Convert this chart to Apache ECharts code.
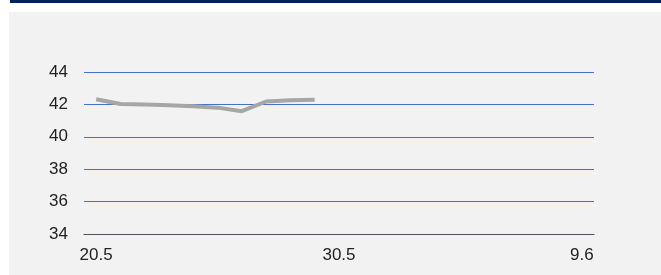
<!DOCTYPE html>
<html><head><meta charset="utf-8">
<script src="https://cdn.jsdelivr.net/npm/echarts@6/dist/echarts.min.js"></script>
<style>html,body{margin:0;padding:0;background:#fff}#c{width:661px;height:275px}</style>
</head><body><div id="c"></div>
<script>
var categories = ['20.5','','','','','','','','','','30.5','','','','','','','','','','9.6'];
var values = [42.32, 42.02, 42.0, 41.95, 41.88, 41.8, 41.58, 42.18, 42.25, 42.28];
var yTicks = [34, 36, 38, 40, 42, 44];

var chart = echarts.init(document.getElementById('c'), null, {renderer:'canvas'});
chart.setOption({
  animation:false,
  backgroundColor:'#ffffff',
  graphic:[
    {type:'rect', shape:{x:10,y:0,width:651,height:3}, style:{fill:'#002060'}, z:-10},
    {type:'rect', shape:{x:9,y:12,width:652,height:263}, style:{fill:'#f2f2f2'}, z:-10}
  ],
  grid:{left:84, right:67, top:72, bottom:41},
  xAxis:{
    type:'category', data:categories, boundaryGap:true,
    axisLine:{show:true, lineStyle:{color:'#44546a', width:1.2}},
    axisTick:{show:false},
    axisLabel:{interval:9, color:'#222', fontSize:17, fontFamily:'Liberation Sans, Arial', margin:13}
  },
  yAxis:{
    type:'value', min:yTicks[0], max:yTicks[yTicks.length-1], interval:2,
    axisLine:{show:false}, axisTick:{show:false},
    axisLabel:{color:'#222', fontSize:17, fontFamily:'Liberation Sans, Arial', margin:16},
    splitLine:{lineStyle:{color:'#4472c4', width:1.2}}
  },
  series:[{
    type:'line', data:values, symbol:'none',
    lineStyle:{color:'#a6a6a6', width:4}, z:3
  }]
});
</script></body></html>
